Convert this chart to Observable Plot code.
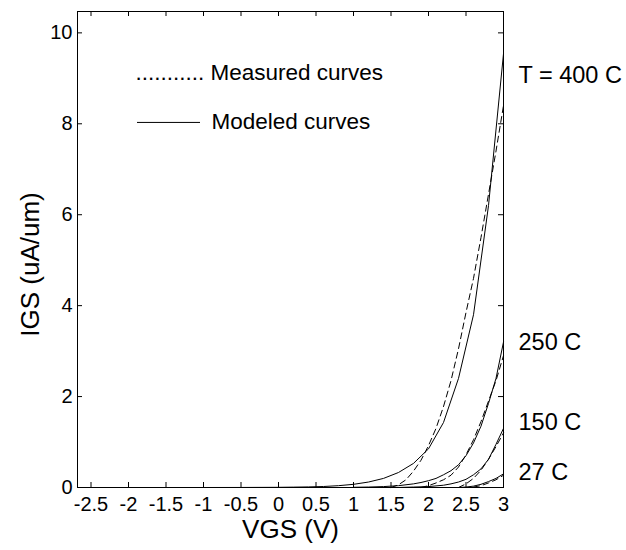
<!DOCTYPE html>
<html>
<head>
<meta charset="utf-8">
<script src="https://cdn.jsdelivr.net/npm/d3@7"></script>
<script src="https://cdn.jsdelivr.net/npm/@observablehq/plot@0.6"></script>
<style>
  html, body { margin: 0; padding: 0; background: #fff; }
</style>
</head>
<body>
<div id="chart"></div>
<script>
// ---- Data ----
const xTicks = [-2.5, -2, -1.5, -1, -0.5, 0, 0.5, 1, 1.5, 2, 2.5, 3];
const yTicks = [0, 2, 4, 6, 8, 10];

// Modeled curves (solid)
const model400X = [-2.6, -2, -1, -0.5, 0, 0.2, 0.4, 0.6, 0.8, 1.0, 1.2, 1.4, 1.6, 1.8, 2.0, 2.2, 2.4, 2.6, 2.8, 3.0];
const model400Y = [0, 0, 0, 0.001, 0.004, 0.008, 0.013, 0.022, 0.04, 0.07, 0.12, 0.2, 0.33, 0.53, 0.85, 1.43, 2.4, 3.8, 6.2, 9.54];
const model250X = [1.0, 1.2, 1.4, 1.6, 1.8, 1.9, 2.0, 2.1, 2.2, 2.3, 2.4, 2.5, 2.6, 2.7, 2.8, 2.9, 3.0];
const model250Y = [0.005, 0.01, 0.02, 0.04, 0.08, 0.11, 0.15, 0.2, 0.28, 0.37, 0.5, 0.7, 0.98, 1.35, 1.85, 2.4, 3.2];
const model150X = [1.6, 1.8, 2.0, 2.2, 2.3, 2.4, 2.5, 2.6, 2.7, 2.8, 2.9, 3.0];
const model150Y = [0, 0.01, 0.02, 0.05, 0.08, 0.12, 0.18, 0.28, 0.41, 0.62, 0.95, 1.3];
const model27X = [2.4, 2.5, 2.6, 2.7, 2.8, 2.9, 3.0];
const model27Y = [0, 0.01, 0.03, 0.07, 0.13, 0.2, 0.3];

// Measured curves (dashed)
const meas400X = [1.5, 1.6, 1.7, 1.8, 1.9, 2.0, 2.1, 2.2, 2.3, 2.4, 2.5, 2.6, 2.7, 2.8, 2.9, 3.0];
const meas400Y = [0, 0.06, 0.17, 0.36, 0.6, 0.92, 1.3, 1.78, 2.35, 3.05, 3.85, 4.6, 5.5, 6.45, 7.4, 8.4];
const meas250X = [1.9, 2.0, 2.1, 2.2, 2.3, 2.4, 2.5, 2.6, 2.7, 2.8, 2.9, 3.0];
const meas250Y = [0, 0.04, 0.1, 0.17, 0.27, 0.45, 0.72, 1.05, 1.45, 1.9, 2.35, 2.9];
const meas150X = [2.4, 2.5, 2.6, 2.7, 2.8, 2.9, 3.0];
const meas150Y = [0, 0.08, 0.2, 0.38, 0.62, 0.9, 1.2];
const meas27X = [2.6, 2.7, 2.8, 2.9, 3.0];
const meas27Y = [0.01, 0.04, 0.1, 0.17, 0.27];

// Temperature labels at the right edge
const tempLabels = ["T = 400 C", "250 C", "150 C", "27 C"];
const tempLabelY = [9.06, 3.19, 1.43, 0.34];

// Legend
const legendTexts = ["........... Measured curves", "Modeled curves"];
const legendLineY = [8.03];

// ---- Build tables ----
const toPts = (xs, ys, s) => xs.map((x, i) => ({x, y: ys[i], s}));
const modeled = [
  ...toPts(model400X, model400Y, "400"),
  ...toPts(model250X, model250Y, "250"),
  ...toPts(model150X, model150Y, "150"),
  ...toPts(model27X, model27Y, "27")
];
const measured = [
  ...toPts(meas400X, meas400Y, "400"),
  ...toPts(meas250X, meas250Y, "250"),
  ...toPts(meas150X, meas150Y, "150"),
  ...toPts(meas27X, meas27Y, "27")
];
const tempTable = tempLabels.map((t, i) => ({t, y: tempLabelY[i]}));

const W = 626, H = 550, ML = 77, MR = 123, MT = 11, MB = 63;
const FW = W - ML - MR, FH = H - MT - MB, TL = 5;
const fmt = d => String(d);

const chart = Plot.plot({
  width: W, height: H,
  marginLeft: ML, marginRight: MR, marginTop: MT, marginBottom: MB,
  style: {fontFamily: "'Liberation Sans', Arial, Helvetica, sans-serif", background: "white", color: "black"},
  x: {domain: [-2.68, 3], label: null},
  y: {domain: [0, 10.47], label: null},
  marks: [
    Plot.line(measured, {x: "x", y: "y", z: "s", stroke: "black", strokeWidth: 1, strokeDasharray: "6,4"}),
    Plot.line(modeled, {x: "x", y: "y", z: "s", stroke: "black", strokeWidth: 1}),
    Plot.frame({stroke: "black", strokeWidth: 1}),
    // inward ticks on all four sides
    Plot.tickX(xTicks, {x: d => d, insetTop: FH - TL, stroke: "black"}),
    Plot.tickX(xTicks, {x: d => d, insetBottom: FH - TL, stroke: "black"}),
    Plot.tickY(yTicks, {y: d => d, insetRight: FW - TL, stroke: "black"}),
    Plot.tickY(yTicks, {y: d => d, insetLeft: FW - TL, stroke: "black"}),
    Plot.axisX(xTicks, {tickSize: 0, tickPadding: 9, fontSize: 20, tickFormat: fmt, label: null}),
    Plot.axisY(yTicks, {tickSize: 0, tickPadding: 5, fontSize: 20, tickFormat: fmt, label: null}),
    Plot.text(["VGS (V)"], {frameAnchor: "bottom", dy: 42, textAnchor: "middle", lineAnchor: "middle", fontSize: 26, fill: "black"}),
    Plot.text(["IGS (uA/um)"], {frameAnchor: "left", dx: -47, dy: 15, textAnchor: "middle", lineAnchor: "middle", rotate: -90, fontSize: 26, fill: "black"}),
    Plot.text(tempTable, {y: "y", text: "t", frameAnchor: "right", dx: 15, textAnchor: "start", lineAnchor: "middle", fontSize: 23.5, fill: "black"}),
    // legend
    Plot.text([legendTexts[0]], {frameAnchor: "top-left", dx: 58, dy: 61, textAnchor: "start", lineAnchor: "middle", fontSize: 22.5, fill: "black"}),
    Plot.ruleY(legendLineY, {x1: -1.88, x2: -1.04, stroke: "black", strokeWidth: 1}),
    Plot.text([legendTexts[1]], {frameAnchor: "top-left", dx: 134, dy: 110, textAnchor: "start", lineAnchor: "middle", fontSize: 22.5, fill: "black"})
  ]
});
document.getElementById("chart").appendChild(chart);
</script>
</body>
</html>
